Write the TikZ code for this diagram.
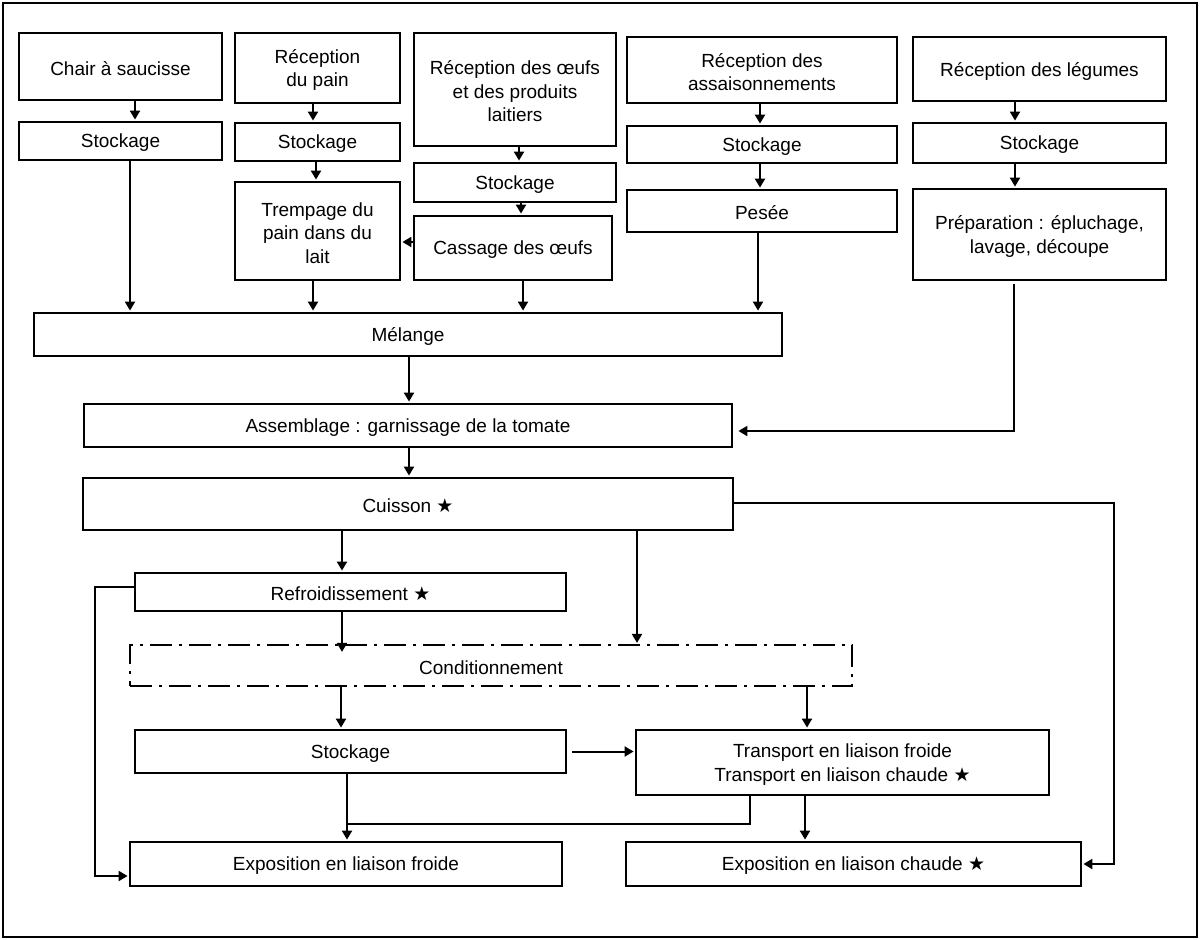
\documentclass[tikz,border=0pt]{standalone}
\usepackage{fontspec}
\setmainfont{Liberation Sans}
\newfontfamily\symfont{DejaVu Sans}
\usetikzlibrary{arrows.meta,calc}
\newcommand{\etoile}{{\symfont\bfseries ★}}
% name, cx, cy, width, height, text, extra style
\newcommand{\bnode}[7][]{%
  \node[box, #1, minimum width=#5pt, minimum height=#6pt] (#2) at (#3,#4) {};
  \node[txt] (#2-t) at ([yshift=-2pt]#2.center) {#7};}
\begin{document}
\begin{tikzpicture}[x=1pt,y=-1pt,
  box/.style={draw, line width=2.8pt, inner sep=0pt},
  txt/.style={inner sep=0pt, align=center, font=\fontsize{19}{23.5}\selectfont},
  arr/.style={line width=2pt, -{Triangle[length=9pt,width=10pt]}, shorten >=1pt},
  ln/.style={line width=2pt},
  dashdot/.style={line width=2.2pt, dash pattern=on 22pt off 7pt on 3pt off 7pt}
]
\useasboundingbox (0,0) rectangle (1200,940);
\node[draw, line width=2.8pt, minimum width=1194pt, minimum height=934pt, inner sep=0pt] (frame) at (600,470) {};

% top row
\bnode{chair}{120.5}{66.5}{203}{67}{Chair à saucisse}
\bnode{st1}{120.5}{141}{203}{38}{Stockage}
\bnode{pain}{317.5}{68}{165}{70}{Réception\\du pain}
\bnode{st2}{317.5}{142}{165}{38}{Stockage}
\bnode{trem}{317.5}{231}{165}{98}{Trempage du\\pain dans du\\lait}
\bnode{oeufs}{515}{89.5}{202}{113}{Réception des œufs\\et des produits\\laitiers}
\bnode{st3}{515}{182.5}{202}{39}{Stockage}
\bnode{cass}{513}{248}{198}{64}{Cassage des œufs}
\bnode{ass}{762}{70}{270}{66}{Réception des\\assaisonnements}
\bnode{st4}{762}{144.5}{270}{37}{Stockage}
\bnode{pesee}{762}{211}{270}{42}{Pesée}
\bnode{leg}{1039.5}{69}{253}{64}{Réception des légumes}
\bnode{st5}{1039.5}{143}{253}{40}{Stockage}
\bnode{prep}{1039.5}{234.5}{253}{91}{Préparation : épluchage,\\lavage, découpe}

% main flow
\bnode{mel}{408}{334.5}{748}{43}{Mélange}
\bnode{asm}{408}{425.5}{648}{43}{Assemblage : garnissage de la tomate}
\bnode{cuis}{408}{504}{650}{52}{Cuisson \etoile}
\bnode{refr}{350.5}{592}{431}{38}{Refroidissement \etoile}
\bnode[dashdot]{cond}{491}{665.5}{722}{41}{Conditionnement}
\bnode{st6}{350.5}{751.5}{431}{43}{Stockage}
\bnode{trans}{842.5}{762.5}{413}{65}{Transport en liaison froide\\Transport en liaison chaude \etoile}
\bnode{expf}{346}{864}{432}{44}{Exposition en liaison froide}
\bnode{expc}{853.5}{864}{455}{44}{Exposition en liaison chaude \etoile}

% vertical arrows
\foreach \s/\e/\x in {chair/st1/135, st1/mel/130, pain/st2/313, st2/trem/316, trem/mel/313,
  oeufs/st3/519, st3/cass/521, cass/mel/523, ass/st4/760, st4/pesee/760, pesee/mel/758,
  leg/st5/1015, st5/prep/1015, mel/asm/409, asm/cuis/409, cuis/refr/342, cuis/cond/637,
  cond/st6/341, cond/trans/807, st6/expf/347, trans/expc/805}
  \draw[arr] (\s.south -| \x,0) -- (\e.north -| \x,0);
\draw[arr, shorten >=-8pt] (refr.south -| 342,0) -- (cond.north -| 342,0);

% other connectors
\draw[arr] (cass.west |- 0,242) -- (trem.east |- 0,242);
\draw[arr, shorten <=3pt, shorten >=5pt] (prep.south -| 1014,0) |- (asm.east |- 0,431);
\coordinate (rc) at (1114,503);
\draw[arr] (cuis.east |- rc) -- (rc) |- (expc.east);
\coordinate (lc) at (95,587);
\draw[arr] (refr.west |- lc) -- (lc) |- (expf.west |- 0,876);
\draw[arr, shorten <=5pt] (st6.east) -- (trans.west |- st6.east);
\coordinate (jn) at (347,824);
\draw[ln] (trans.south -| 750,0) |- (jn);
\end{tikzpicture}
\end{document}
